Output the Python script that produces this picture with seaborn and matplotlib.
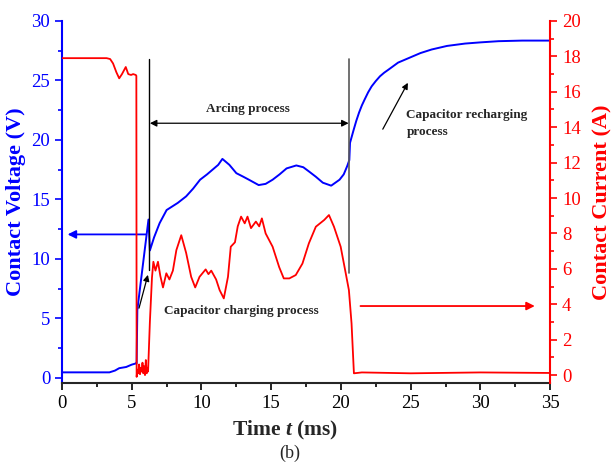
import numpy as np
import pandas as pd
import matplotlib
matplotlib.use("Agg")
import matplotlib.pyplot as plt
from matplotlib.ticker import MultipleLocator
import seaborn as sns

# contact voltage (left axis)
volt_t = [0, 3.4, 3.8, 4.1, 4.6, 5.0, 5.3, 5.35, 5.4, 6.2, 6.3, 6.6, 7.0, 7.5, 7.9, 8.3,
          8.9, 9.4, 9.9, 10.4, 10.8, 11.2, 11.5, 12.0, 12.5, 13.0, 13.4, 14.1, 14.6, 15.1,
          15.6, 16.1, 16.8, 17.3, 17.7, 18.2, 18.7, 19.3, 19.9, 20.2, 20.45, 20.6, 20.65,
          20.9, 21.1, 21.3, 21.5, 21.7, 21.95, 22.2, 22.5, 22.8, 23.1, 23.4, 24.1, 24.9,
          25.7, 26.5, 27.6, 28.9, 30.0, 31.3, 33.0, 35.0]
volt_v = [0.45, 0.45, 0.6, 0.8, 0.9, 1.1, 1.2, 1.2, 5.7, 13.3, 10.7, 11.8, 13.0, 14.1, 14.4, 14.7,
          15.25, 15.9, 16.65, 17.1, 17.5, 17.9, 18.4, 17.9, 17.2, 16.9, 16.65, 16.2, 16.3, 16.65,
          17.1, 17.6, 17.85, 17.7, 17.35, 16.9, 16.4, 16.15, 16.65, 17.1, 17.8, 18.3, 19.75,
          20.8, 21.6, 22.3, 22.9, 23.4, 24.0, 24.5, 24.95, 25.35, 25.65, 25.9, 26.5, 26.9,
          27.3, 27.6, 27.9, 28.1, 28.2, 28.3, 28.35, 28.35]

# contact current (right axis)
curr_t = [0, 3.2, 3.45, 3.66, 3.9, 4.1, 4.3, 4.57, 4.75, 4.95, 5.1, 5.29, 5.33,
          5.35, 5.41, 5.47, 5.53, 5.59, 5.65, 5.71, 5.77, 5.83, 5.89, 5.95, 6.01, 6.07, 6.12, 6.17,
          6.3, 6.45, 6.55, 6.7, 6.88, 7.05, 7.24, 7.48, 7.7, 7.95, 8.2, 8.55, 8.9, 9.26, 9.55,
          9.86, 10.3, 10.5, 10.7, 11.05, 11.3, 11.6, 11.9, 12.1, 12.4, 12.6, 12.84, 13.1, 13.3,
          13.55, 13.9, 14.14, 14.33, 14.6, 15.1, 15.57, 15.9, 16.3, 16.76, 17.24, 17.7, 18.2,
          18.8, 19.14, 19.5, 19.98, 20.3, 20.57, 20.76, 20.93, 21.5, 25.0, 30.0, 35.0]
curr_a = [17.9, 17.9, 17.85, 17.6, 17.1, 16.76, 17.0, 17.4, 17.0, 16.95, 17.0, 16.95, 16.9,
          -0.1, 0.3, 0.1, 0.6, 0.05, 0.4, 0.2, 0.7, 0.1, 0.5, 0.0, 0.85, 0.1, 0.4, 0.2,
          3.0, 5.5, 6.4, 5.9, 6.4, 5.6, 4.95, 5.75, 5.4, 5.9, 7.06, 7.9, 6.9, 5.55, 4.95,
          5.55, 5.97, 5.7, 5.9, 5.4, 4.8, 4.33, 5.55, 7.25, 7.5, 8.4, 8.95, 8.57, 8.95,
          8.3, 8.67, 8.4, 8.85, 8.0, 7.25, 6.1, 5.46, 5.46, 5.65, 6.3, 7.44, 8.38,
          8.76, 9.04, 8.38, 7.25, 5.93, 4.8, 2.92, 0.1, 0.15, 0.1, 0.15, 0.12]

sns.set_style("ticks")
plt.rcParams['font.family'] = ['Liberation Serif', 'DejaVu Serif']
plt.rcParams['mathtext.fontset'] = 'custom'
plt.rcParams['mathtext.bfit'] = 'Liberation Serif:italic:bold'
plt.rcParams['mathtext.it'] = 'Liberation Serif:italic'
plt.rcParams['mathtext.rm'] = 'Liberation Serif'

fig = plt.figure(figsize=(6.14, 4.66), dpi=100)
ax = fig.add_axes([0.101, 0.178, 0.795, 0.777])
ax2 = ax.twinx()

sns.lineplot(x=volt_t, y=volt_v, ax=ax, color='#0000ff', lw=1.4, estimator=None, sort=False)
sns.lineplot(x=curr_t, y=curr_a, ax=ax2, color='#ff0000', lw=1.3, estimator=None, sort=False)

ax.set_xlim(0, 35)
ax.set_ylim(-0.45, 30)
ax2.set_ylim(-0.45, 20)

# spines
for a in (ax, ax2):
    a.spines['top'].set_visible(False)
ax.spines['right'].set_visible(False)
ax2.spines['left'].set_visible(False)
ax2.spines['bottom'].set_visible(False)
ax.spines['left'].set_color('#0000ff')
ax.spines['left'].set_linewidth(1.5)
ax.spines['bottom'].set_linewidth(1.5)
ax2.spines['right'].set_color('#ff0000')
ax2.spines['right'].set_linewidth(1.5)

ax.xaxis.set_major_locator(MultipleLocator(5))
ax.xaxis.set_minor_locator(MultipleLocator(2.5))
ax.yaxis.set_major_locator(MultipleLocator(5))
ax.yaxis.set_minor_locator(MultipleLocator(2.5))
ax2.yaxis.set_major_locator(MultipleLocator(2))
ax2.yaxis.set_minor_locator(MultipleLocator(1))

ax.tick_params(axis='x', which='both', direction='out', width=1.2, labelsize=13.5, colors='black')
ax.tick_params(axis='x', which='major', length=5)
ax.tick_params(axis='x', which='minor', length=3)
ax.tick_params(axis='y', which='both', direction='out', width=1.2, labelsize=13.5, colors='#0000ff')
ax.tick_params(axis='y', which='major', length=5)
ax.tick_params(axis='y', which='minor', length=3)
ax2.tick_params(axis='y', which='both', direction='out', width=1.2, labelsize=13.5, colors='#ff0000')
ax2.tick_params(axis='y', which='major', length=5)
ax2.tick_params(axis='y', which='minor', length=3)

ax.set_xlabel(r'Time $\mathbfit{t}$ (ms)', fontsize=15.5, fontweight='bold')
ax.xaxis.set_label_coords(0.457, -0.098)
ax.set_ylabel('Contact Voltage (V)', fontsize=16, fontweight='bold', color='#0000ff')
ax2.set_ylabel('Contact Current (A)', fontsize=16, fontweight='bold', color='#ff0000')
ax2.yaxis.set_label_coords(1.087, 0.5)

# process markers
ax.plot([6.25, 6.25], [9.07, 26.77], color='black', lw=1)
ax.plot([20.6, 20.6], [8.8, 26.77], color='0.35', lw=1.2)
ax.annotate('', xy=(6.3, 21.4), xytext=(20.55, 21.4),
            arrowprops=dict(arrowstyle='<|-|>', color='black', lw=0.9, mutation_scale=10,
                            shrinkA=0, shrinkB=0))
ax.text(13.3, 22.6, 'Arcing process', fontsize=9.5, fontweight='bold', ha='center', va='center')

ax.annotate('', xy=(0.4, 12.05), xytext=(6.0, 12.05),
            arrowprops=dict(arrowstyle='-|>', color='#0000ff', lw=1.3, mutation_scale=12,
                            shrinkA=0, shrinkB=0))
ax2.annotate('', xy=(33.9, 3.9), xytext=(21.4, 3.9),
             arrowprops=dict(arrowstyle='-|>', color='#ff0000', lw=1.3, mutation_scale=12,
                             shrinkA=0, shrinkB=0))

ax.annotate('', xy=(6.16, 8.65), xytext=(5.52, 5.85),
            arrowprops=dict(arrowstyle='-|>', color='black', lw=0.9, mutation_scale=9,
                            shrinkA=0, shrinkB=0))
ax.text(7.3, 5.6, 'Capacitor charging process', fontsize=9.5, fontweight='bold',
        ha='left', va='center')

ax.annotate('', xy=(24.8, 24.8), xytext=(23.0, 20.9),
            arrowprops=dict(arrowstyle='-|>', color='black', lw=0.9, mutation_scale=9,
                            shrinkA=0, shrinkB=0))
ax.text(24.7, 21.4, 'Capacitor recharging\nprocess', fontsize=9.5, fontweight='bold',
        ha='left', va='center', linespacing=1.6)

fig.text(290 / 614, 1 - 453 / 466, '(b)', fontsize=13, ha='center', va='center')

fig.savefig('out.png', dpi=100)
